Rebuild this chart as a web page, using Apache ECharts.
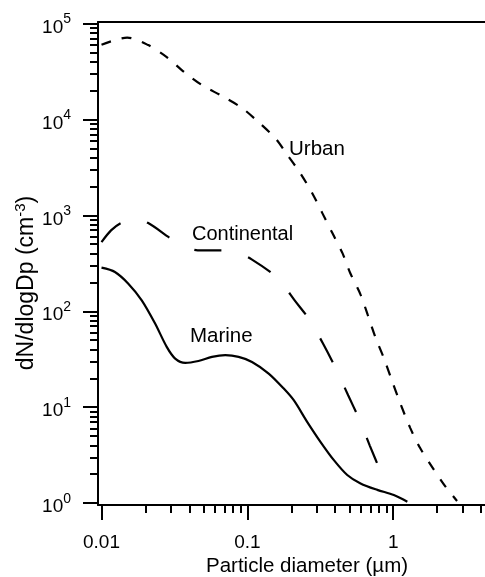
<!DOCTYPE html>
<html>
<head>
<meta charset="utf-8">
<script src="https://cdn.jsdelivr.net/npm/echarts@6/dist/echarts.min.js"></script>
<style>
  html, body { margin: 0; padding: 0; background: #fff; }
  #chart { width: 485px; height: 577px; }
</style>
</head>
<body>
<div id="chart"></div>
<script>
// particle diameter (um) and dN/dlogDp (cm-3)
const urbanD = [0.01, 0.015, 0.0209, 0.028, 0.0369, 0.0487, 0.0669, 0.0918, 0.119, 0.156, 0.184, 0.23, 0.278, 0.326, 0.382, 0.448, 0.508, 0.596, 0.67, 0.755, 0.863, 0.972, 1.12, 1.31, 1.53, 1.86, 2.27, 2.74]
const urbanN = [60300, 71500, 59700, 44800, 31200, 22900, 17600, 13200, 9420, 6340, 4480, 2770, 1715, 1062, 657, 406, 249, 150, 91, 53.6, 32.4, 19.6, 10.9, 6.04, 3.74, 2.34, 1.5, 1.05]

const contD = [0.01, 0.01162, 0.01355, 0.01673, 0.0209, 0.0299, 0.0369, 0.0456, 0.0696, 0.0882, 0.107, 0.154, 0.177, 0.211, 0.265, 0.33, 0.404, 0.491, 0.584, 0.692, 0.82, 0.9]
const contN = [527, 698, 831, 931, 831, 572, 475, 432, 432, 402, 348, 237, 187, 130, 82.6, 46.1, 25.3, 13.3, 7.5, 3.95, 2.12, 1.5]

const marineD = [0.01, 0.01236, 0.01527, 0.01887, 0.0233, 0.028, 0.032, 0.0375, 0.0462, 0.0572, 0.0706, 0.0871, 0.1076, 0.14, 0.177, 0.208, 0.257, 0.317, 0.392, 0.484, 0.597, 0.778, 1.01, 1.25]
const marineN = [285, 257, 194, 130, 74.5, 42.5, 32.1, 28.9, 30.3, 33.4, 34.8, 33.4, 29.6, 22.4, 15.7, 11.8, 7.03, 4.35, 2.8, 1.96, 1.6, 1.37, 1.21, 1.03]

const xMajor = [0.01, 0.1, 1]
const xMajorLabels = ['0.01', '0.1', '1']
const xMinor = [0.02, 0.03, 0.04, 0.05, 0.06, 0.07, 0.08, 0.09, 0.2, 0.3, 0.4, 0.5, 0.6, 0.7, 0.8, 0.9, 2, 3, 4]
const yMajor = [1, 10, 100, 1000, 10000, 100000]
const yMinor = []
yMajor.slice(0, -1).forEach(function (d) {
    for (let k = 2; k <= 9; k++) yMinor.push(d * k)
})

const FONT = 'Liberation Sans'

function zip(xs, ys) {
    return xs.map(function (x, i) { return [x, ys[i]] })
}

var chart = echarts.init(document.getElementById('chart'))

var baseX = { type: 'log', min: 0.00946, max: 4.26, gridIndex: 0, splitLine: { show: false } }
var baseY = { type: 'log', min: 0.953, max: 104000, gridIndex: 0, splitLine: { show: false } }

var option = {
    animation: false,
    backgroundColor: '#fff',
    grid: { left: 98, right: 0, top: 22, bottom: 72 },
    xAxis: [
        Object.assign({}, baseX, {
            position: 'bottom',
            axisLine: { show: true, lineStyle: { color: '#000', width: 2 } },
            axisTick: { show: true, inside: false, length: 15, customValues: xMajor, lineStyle: { color: '#000', width: 2 } },
            axisLabel: {
                customValues: xMajor, margin: 28, color: '#000', fontFamily: FONT, fontSize: 19,
                formatter: function (v) {
                    var i = xMajor.findIndex(function (m) { return Math.abs(m - v) < m * 1e-6 })
                    return i >= 0 ? xMajorLabels[i] : ''
                }
            }
        }),
        Object.assign({}, baseX, {
            position: 'bottom',
            axisLine: { show: false },
            axisTick: { show: true, inside: false, length: 8, customValues: xMinor, lineStyle: { color: '#000', width: 2 } },
            axisLabel: { show: false }
        }),
        Object.assign({}, baseX, {
            position: 'top',
            axisLine: { show: true, lineStyle: { color: '#000', width: 2 } },
            axisTick: { show: false },
            axisLabel: { show: false }
        })
    ],
    yAxis: [
        Object.assign({}, baseY, {
            position: 'left',
            axisLine: { show: true, lineStyle: { color: '#000', width: 2 } },
            axisTick: { show: true, inside: false, length: 15, customValues: yMajor, lineStyle: { color: '#000', width: 2 } },
            axisLabel: {
                customValues: yMajor, margin: 27, color: '#000', fontFamily: FONT,
                formatter: function (v) {
                    return '{b|10}{s|' + Math.round(Math.log10(v)) + '}'
                },
                rich: {
                    b: { fontSize: 19, fontFamily: FONT, color: '#000', padding: [8, 0, 0, 0] },
                    s: { fontSize: 14, fontFamily: FONT, color: '#000', padding: [0, 0, 8, 0] }
                }
            }
        }),
        Object.assign({}, baseY, {
            position: 'left',
            axisLine: { show: false },
            axisTick: { show: true, inside: false, length: 8, customValues: yMinor, lineStyle: { color: '#000', width: 2 } },
            axisLabel: { show: false }
        })
    ],
    graphic: [
        {
            type: 'text', x: 24, y: 283, rotation: Math.PI / 2,
            style: {
                text: '{a|dN/dlogDp (cm}{s|-3}{a|)}',
                align: 'center', verticalAlign: 'middle',
                rich: {
                    a: { fontSize: 23, fontFamily: FONT, fill: '#000', padding: [6, 0, 0, 0] },
                    s: { fontSize: 15, fontFamily: FONT, fill: '#000', padding: [0, 0, 7, 0] }
                }
            }
        },
        {
            type: 'text', x: 206, y: 566,
            style: { text: 'Particle diameter (\u00b5m)', fontSize: 20.5, fontFamily: FONT, fill: '#000', verticalAlign: 'middle' }
        },
        {
            type: 'text', x: 289, y: 149,
            style: { text: 'Urban', fontSize: 20.5, fontFamily: FONT, fill: '#000', verticalAlign: 'middle' }
        },
        {
            type: 'text', x: 192, y: 234,
            style: { text: 'Continental', fontSize: 20, fontFamily: FONT, fill: '#000', verticalAlign: 'middle' }
        },
        {
            type: 'text', x: 190, y: 336,
            style: { text: 'Marine', fontSize: 20.5, fontFamily: FONT, fill: '#000', verticalAlign: 'middle' }
        }
    ],
    series: [
        {
            name: 'Urban', type: 'line', xAxisIndex: 0, yAxisIndex: 0,
            data: zip(urbanD, urbanN), showSymbol: false, symbol: 'none', smooth: 0.3,
            lineStyle: { color: '#000', width: 2.2, type: [10, 11] }
        },
        {
            name: 'Continental', type: 'line', xAxisIndex: 0, yAxisIndex: 0,
            data: zip(contD, contN), showSymbol: false, symbol: 'none', smooth: 0.3,
            lineStyle: { color: '#000', width: 2.2, type: [27, 28] }
        },
        {
            name: 'Marine', type: 'line', xAxisIndex: 0, yAxisIndex: 0,
            data: zip(marineD, marineN), showSymbol: false, symbol: 'none', smooth: 0.3,
            lineStyle: { color: '#000', width: 2.2 }
        }
    ]
}

chart.setOption(option)
</script>
</body>
</html>
